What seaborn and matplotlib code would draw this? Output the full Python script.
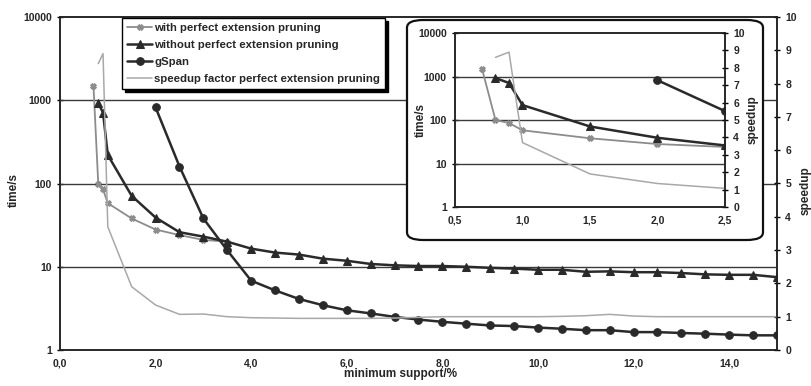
import matplotlib
matplotlib.use("Agg")
import matplotlib.pyplot as plt
import seaborn as sns
import pandas as pd
from matplotlib.patches import FancyBboxPatch
from matplotlib.ticker import FixedLocator, MultipleLocator, NullLocator, FuncFormatter

# data
support_with = [0.7, 0.8, 0.9, 1.0, 1.5, 2.0, 2.5, 3.0, 3.5]
time_with = [1500, 100, 85, 58, 38, 28, 24, 21, 20]

support = [0.8, 0.9, 1.0, 1.5, 2.0, 2.5, 3.0, 3.5, 4.0, 4.5, 5.0, 5.5, 6.0, 6.5, 7.0, 7.5,
           8.0, 8.5, 9.0, 9.5, 10.0, 10.5, 11.0, 11.5, 12.0, 12.5, 13.0, 13.5, 14.0, 14.5, 15.0]
time_without = [920, 710, 220, 71, 39, 26, 23, 20, 16.5, 14.8, 14.0, 12.5, 11.8, 10.8, 10.4, 10.2,
                10.2, 10.0, 9.7, 9.5, 9.2, 9.2, 8.7, 8.8, 8.6, 8.6, 8.4, 8.1, 8.0, 8.0, 7.5]
speedup = [8.6, 8.9, 3.7, 1.9, 1.35, 1.07, 1.08, 1.0, 0.97, 0.96, 0.95, 0.95, 0.95, 0.95, 0.96, 0.98,
           1.0, 1.0, 1.0, 1.0, 1.0, 1.01, 1.03, 1.07, 1.02, 1.0, 1.0, 1.0, 1.0, 1.0, 1.0]

support_gspan = [2.0, 2.5, 3.0, 3.5, 4.0, 4.5, 5.0, 5.5, 6.0, 6.5, 7.0, 7.5, 8.0, 8.5,
                 9.0, 9.5, 10.0, 10.5, 11.0, 11.5, 12.0, 12.5, 13.0, 13.5, 14.0, 14.5, 15.0]
time_gspan = [820, 160, 38, 15.7, 6.8, 5.2, 4.1, 3.45, 3.0, 2.75, 2.5, 2.32, 2.18, 2.07,
              1.97, 1.94, 1.86, 1.8, 1.73, 1.73, 1.64, 1.64, 1.6, 1.57, 1.53, 1.5, 1.5]

labels = ["with perfect extension pruning", "without perfect extension pruning",
          "gSpan", "speedup factor perfect extension pruning"]
time_ticks = [1, 10, 100, 1000, 10000]

sns.set_style("white")
plt.rcParams["font.family"] = ["Liberation Sans", "DejaVu Sans"]
plt.rcParams["font.weight"] = "bold"

c_with = "#8c8c8c"
c_dark = "#2a2a2a"
c_speed = "#a8a8a8"
c_grid = "#3a3a3a"

comma = FuncFormatter(lambda v, p: f"{v:.1f}".replace(".", ","))


def draw(ax, ax2, ms):
    sns.lineplot(x=support_with, y=time_with, ax=ax, color=c_with, lw=1.3,
                 marker="X", markersize=ms, markeredgecolor=c_with, label=labels[0], zorder=3)
    sns.lineplot(x=support, y=time_without, ax=ax, color=c_dark, lw=1.8,
                 marker="^", markersize=ms + 1.5, markeredgecolor=c_dark, label=labels[1], zorder=4)
    sns.lineplot(x=support_gspan, y=time_gspan, ax=ax, color=c_dark, lw=1.8,
                 marker="o", markersize=ms + 1.5, markeredgecolor=c_dark, label=labels[2], zorder=4)
    sns.lineplot(x=support, y=speedup, ax=ax2, color=c_speed, lw=1.1, label=labels[3])
    ax.set_yscale("log")
    ax.set_ylim(1, 10000)
    ax.yaxis.set_major_locator(FixedLocator(time_ticks))
    ax.yaxis.set_minor_locator(NullLocator())
    ax.yaxis.set_major_formatter(FuncFormatter(lambda v, p: f"{v:g}"))
    for t in [10, 100, 1000]:
        ax.axhline(t, color=c_grid, lw=1.0, zorder=1)
    ax2.set_ylim(0, 10)
    ax2.yaxis.set_major_locator(MultipleLocator(1))
    ax.xaxis.set_major_formatter(comma)
    for a in (ax, ax2):
        a.tick_params(which="both", direction="inout", color="black")
        a.tick_params(which="major", length=5, width=1)
        a.tick_params(which="minor", length=3, width=0.8)
        for s in a.spines.values():
            s.set_color("#222222")
            s.set_linewidth(1.1)
    ax.set_ylabel("time/s", fontsize=8.5, fontweight="bold")
    ax2.set_ylabel("speedup", fontsize=8.5, fontweight="bold")


fig = plt.figure(figsize=(8.12, 3.86), dpi=100)

# main chart
ax = fig.add_axes([60 / 812, 36 / 386, 717 / 812, 333 / 386])
ax2 = ax.twinx()
draw(ax, ax2, 4)
ax.set_xlim(0, 15)
ax.xaxis.set_major_locator(MultipleLocator(2))
ax.xaxis.set_minor_locator(MultipleLocator(0.5))
ax.tick_params(labelsize=7.5)
ax2.tick_params(labelsize=7.5)
ax.set_xlabel("minimum support/%", fontsize=8.5, fontweight="bold", labelpad=1)
ax.xaxis.set_label_coords(0.475, -0.055)
ax.yaxis.set_label_coords(-0.056, 0.48)
ax2.yaxis.set_label_coords(1.031, 0.48)

h1, l1 = ax.get_legend_handles_labels()
h2, l2 = ax2.get_legend_handles_labels()
ax.get_legend().remove()
ax2.get_legend().remove()
leg = ax2.legend(h1 + h2, l1 + l2, loc="upper left", bbox_to_anchor=(0.0865, 0.997),
                 borderaxespad=0, fancybox=False, shadow={"color": "black", "alpha": 1},
                 frameon=True, handlelength=2.2, handletextpad=0.2,
                 labelspacing=0.6, borderpad=0.45, prop={"weight": "bold", "size": 8.2})
leg.get_frame().set_edgecolor("black")
leg.get_frame().set_linewidth(1.0)

# rounded frame for the zoomed inset
box = FancyBboxPatch((407 / 812, 146 / 386), 356 / 812, 220 / 386,
                     boxstyle="round,pad=0,rounding_size=0.02", transform=fig.transFigure,
                     facecolor="white", edgecolor="#111111", lw=1.6, zorder=2)
fig.patches.append(box)

ins = fig.add_axes([455 / 812, 179 / 386, 270 / 812, 174 / 386])
ins.set_zorder(3)
ins2 = ins.twinx()
ins2.set_zorder(4)
draw(ins, ins2, 4)
ins.get_legend().remove()
ins2.get_legend().remove()
ins.patch.set_visible(False)
ins.set_xlim(0.5, 2.5)
ins.xaxis.set_major_locator(MultipleLocator(0.5))
ins.xaxis.set_minor_locator(MultipleLocator(0.1))
ins.tick_params(labelsize=7.5)
ins2.tick_params(labelsize=7.5)
ins.yaxis.set_label_coords(-0.105, 0.5)
ins2.yaxis.set_label_coords(1.08, 0.5)

fig.savefig("out.png", dpi=100)
